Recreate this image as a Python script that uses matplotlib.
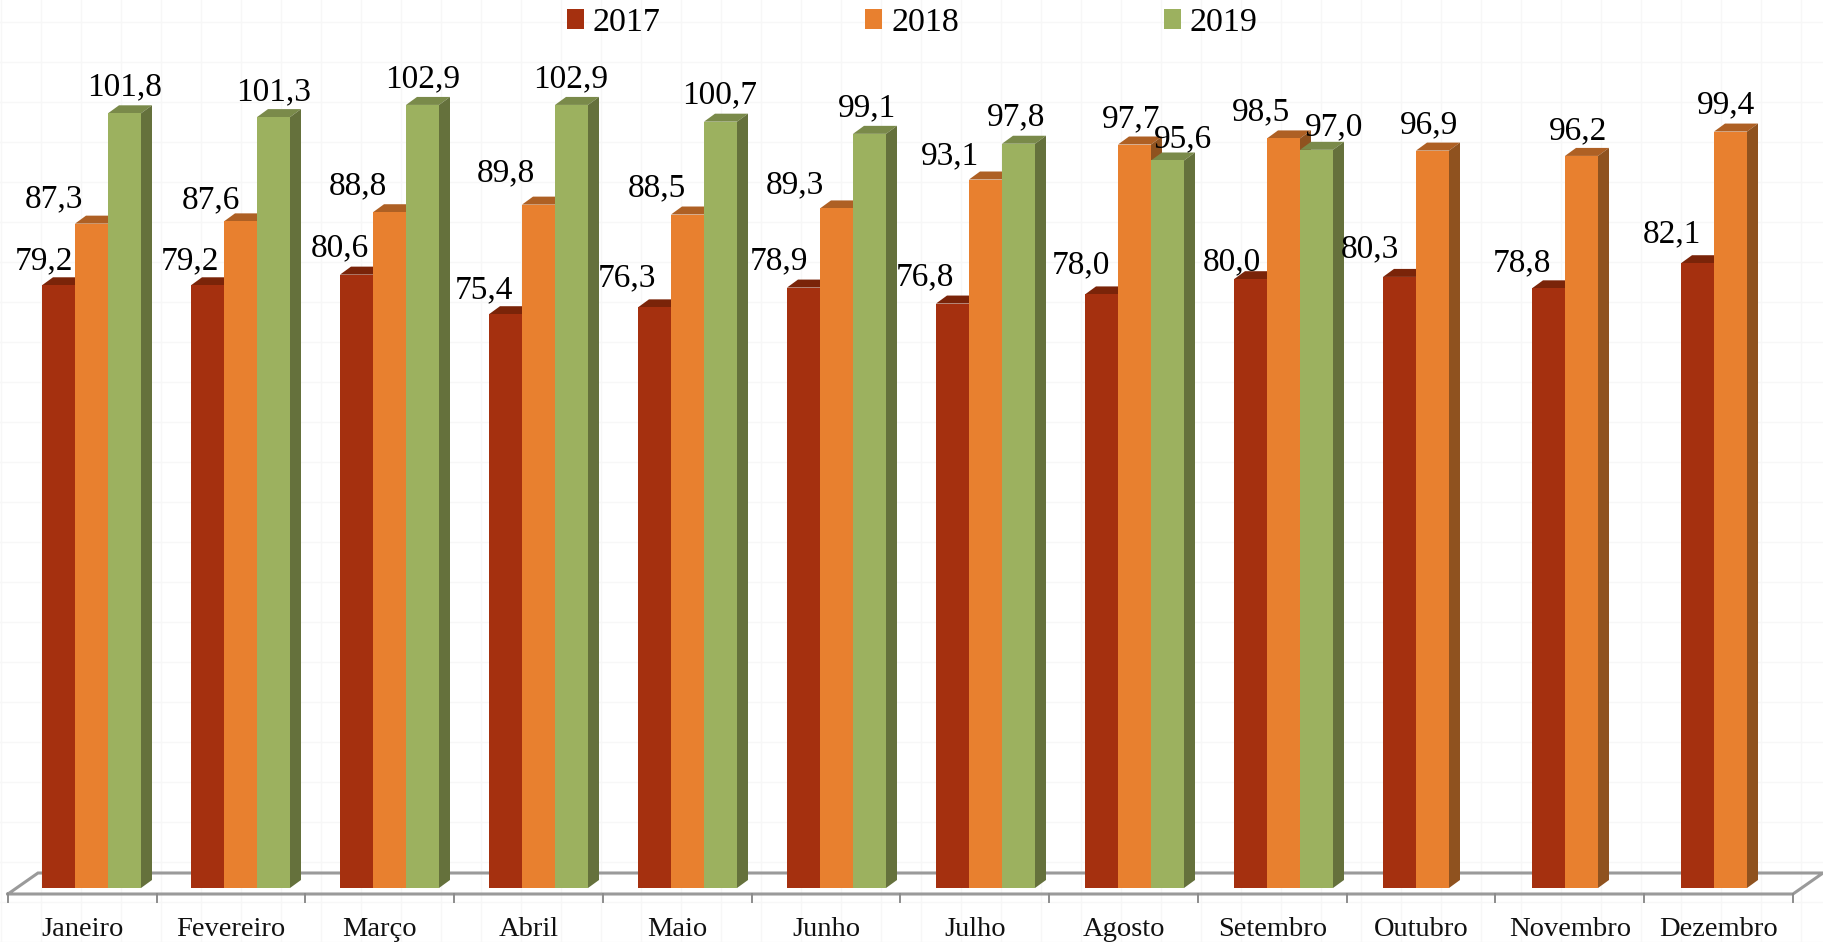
import numpy as np
import matplotlib
matplotlib.use("Agg")
import matplotlib.pyplot as plt
from matplotlib.patches import Patch

plt.rcParams['font.family'] = ['Liberation Serif', 'DejaVu Serif']

meses = ["Janeiro", "Fevereiro", "Março", "Abril", "Maio", "Junho", "Julho",
         "Agosto", "Setembro", "Outubro", "Novembro", "Dezembro"]
v2017 = [79.2, 79.2, 80.6, 75.4, 76.3, 78.9, 76.8, 78.0, 80.0, 80.3, 78.8, 82.1]
v2018 = [87.3, 87.6, 88.8, 89.8, 88.5, 89.3, 93.1, 97.7, 98.5, 96.9, 96.2, 99.4]
v2019 = [101.8, 101.3, 102.9, 102.9, 100.7, 99.1, 97.8, 95.6, 97.0]

# cores: frente, topo, lado
cores = {"2017": ("#A5300F", "#7A2409", "#7A2409"),
         "2018": ("#E8802F", "#AE6024", "#8F521F"),
         "2019": ("#9CB15F", "#7A8A4A", "#65713C")}

# deslocamento dos rotulos em pixels (centro dos digitos em relacao ao topo da barra)
off_2017 = [(-14, 27), (-17, 27), (-17, 29), (-22, 27), (-28, 32), (-25, 29),
            (-28, 29), (-21, 32), (-19, 20), (-30, 31), (-27, 28), (-26, 32)]
off_2018 = [(-38, 27), (-30, 24), (-32, 29), (-33, 34), (-31, 29), (-42, 26),
            (-35, 26), (-3, 28), (-22, 29), (-3, 28), (-3, 28), (-4, 29)]
off_2019 = [(0, 29), (0, 28), (0, 29), (-1, 29), (-1, 29), (-2, 29), (-2, 29),
            (16, 24), (18, 26)]

W, H = 1824, 942
px_x = 148.75   # pixels por categoria
px_barra = 149.0  # passo das barras, um pouco maior que o do eixo
px_y = 7.61     # pixels por unidade
x0 = 82.35      # pixel do centro da primeira categoria
y0 = 888        # pixel do zero
meia_altura = 11  # metade da altura dos digitos, em pixels

fig = plt.figure(figsize=(W / 100, H / 100), dpi=100, facecolor="white")

# grade clara de fundo
bg = fig.add_axes([0, 0, 1, 1], zorder=0)
bg.set_xlim(0, W)
bg.set_ylim(H, 0)
bg.axis("off")
for gx in np.arange(1.5, W, 40):
    bg.axvline(gx, color="#F7F7F7", lw=1.0)
for gy in np.arange(21.5, H, 40):
    bg.axhline(gy, color="#F7F7F7", lw=1.0)

ax = fig.add_axes([0, 0, 1, 1], zorder=1)
ax.patch.set_alpha(0)
ax.set_xlim(-x0 / px_x, (W - x0) / px_x)
ax.set_ylim((y0 - H) / px_y, y0 / px_y)
ax.axis("off")

# chao do grafico
dx_chao = 30 / px_x
dy_chao = 21 / px_y
fy = -6 / px_y
n = len(meses)
ax.plot([-0.5, -0.5 + dx_chao, n - 0.5 + dx_chao, n - 0.5, -0.5],
        [fy, fy + dy_chao, fy + dy_chao, fy, fy],
        color="#9A9A9A", lw=2.2, solid_joinstyle="miter", zorder=1)
for i in range(n + 1):
    ax.plot([i - 0.5, i - 0.5], [fy, fy - 8 / px_y], color="#8C8C8C", lw=1.4, zorder=1)
for i, m in enumerate(meses):
    ax.annotate(m, (i, fy), xytext=(0, -36), textcoords="offset pixels",
                ha="center", va="center", fontsize=20.5, color="#111111")

larg = 33 / px_x
desl = 9.15 / px_x
dx3d = 11 / px_x
dy3d = 8 / px_y


def barras3d(nome, valores, pos, offs, z):
    frente, topo, lado = cores[nome]
    xs = np.arange(len(valores)) * px_barra / px_x + desl + pos * larg
    for x, v, o in zip(xs, valores, offs):
        e = x - larg / 2
        d = x + larg / 2
        ax.fill([e, e + dx3d, d + dx3d, d], [v, v + dy3d, v + dy3d, v],
                color=topo, lw=0, zorder=z)
        ax.fill([d, d + dx3d, d + dx3d, d], [0, dy3d, v + dy3d, v],
                color=lado, lw=0, zorder=z)
        ax.bar(x, v, width=larg, color=frente, lw=0, zorder=z + 0.1)
        ax.annotate(str(v).replace(".", ","), (x, v), xytext=(o[0], o[1] - meia_altura),
                    textcoords="offset pixels", ha="center", va="baseline",
                    fontsize=24, color="black", zorder=10)


barras3d("2017", v2017, -1, off_2017, 2)
barras3d("2018", v2018, 0, off_2018, 3)
barras3d("2019", v2019, 1, off_2019, 4)

alcas = [Patch(color=cores[k][0], lw=0) for k in cores]
ax.legend(alcas, list(cores), loc="upper center", bbox_to_anchor=(0.5, 1.0245),
          ncols=3, frameon=False, fontsize=24.5, handlelength=0.5, handleheight=0.5,
          handletextpad=0.26, columnspacing=6.02)

fig.savefig("out.png", dpi=100)
